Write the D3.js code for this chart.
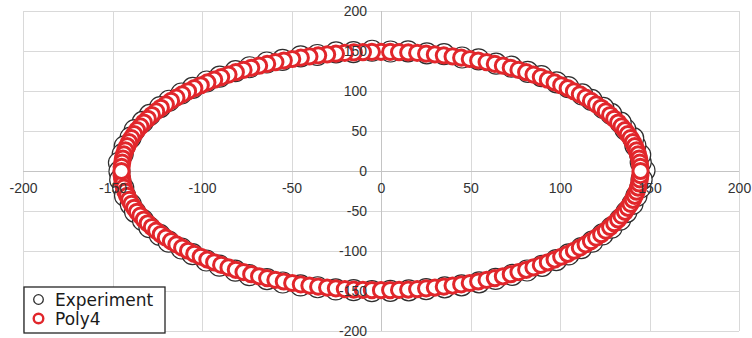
<!DOCTYPE html>
<html>
<head>
<meta charset="utf-8">
<script src="https://cdn.jsdelivr.net/npm/d3@7"></script>
<style>
  html, body { margin: 0; padding: 0; background: #ffffff; }
  svg { display: block; }
</style>
</head>
<body>
<svg id="chart" width="752" height="338"></svg>
<script>
// Axis ticks and their labels
const xTicks = [-200, -150, -100, -50, 0, 50, 100, 150, 200];
const yTicks = [-200, -150, -100, -50, 0, 50, 100, 150, 200];
const xTickLabels = ["-200", "-150", "-100", "-50", "0", "50", "100", "150", "200"];
const yTickLabels = ["-200", "-150", "-100", "-50", "0", "50", "100", "150", "200"];

// Series names (legend order)
const seriesNames = ["Experiment", "Poly4"];

// Experiment: measured contour points
const experimentX = [
  147.2, 145.1, 144.8, 142.1, 140.9, 136.5, 133.9, 128.6, 124.2, 117.6, 112.4, 104.6,
  98.1, 89.6, 82.0, 72.8, 64.3, 54.5, 45.3, 35.2, 25.6, 15.1, 5.3,
  -5.0, -15.4, -25.1, -35.6, -44.9, -55.0, -63.8, -73.4, -81.3, -90.1, -97.4,
  -105.2, -111.5, -118.4, -123.4, -129.2, -133.1, -137.6, -139.9, -143.2, -144.3, -146.4,
  -146.1, -145.7, -144.0, -143.0, -139.8, -137.4, -133.0, -129.4, -123.6, -118.6, -111.4,
  -105.3, -97.6, -90.3, -81.4, -73.6, -63.7, -54.9, -45.0, -35.4, -25.3, -15.3, -5.1,
  5.2, 15.5, 25.2, 35.6, 45.0, 54.8, 64.0, 73.3, 81.6, 90.0, 97.9,
  104.8, 111.9, 118.0, 123.8, 128.8, 133.6, 137.1, 140.5, 142.7, 144.9, 145.6
];
const experimentY = [
  0.6, 10.9, 20.3, 31.8, 41.0, 52.1, 60.4, 71.3, 78.9, 88.9, 95.7, 104.9,
  110.8, 118.7, 123.9, 130.4, 134.2, 139.6, 141.9, 146.0, 147.1, 149.6, 149.4,
  150.3, 148.6, 148.3, 145.0, 143.4, 138.8, 135.6, 129.7, 124.8, 117.9, 111.9,
  103.8, 96.9, 87.8, 79.9, 70.1, 61.4, 51.1, 41.8, 30.9, 21.1, 10.3,
  -0.5, -10.8, -21.2, -30.9, -41.7, -51.0, -61.5, -70.3, -79.9, -88.4, -96.9,
  -104.0, -111.9, -118.4, -124.6, -130.2, -135.1, -139.4, -143.0, -145.3, -148.0, -149.0, -150.2,
  -149.8, -149.2, -147.6, -145.4, -142.9, -139.2, -134.9, -129.8, -124.4, -118.5, -111.4,
  -104.3, -96.3, -88.3, -79.3, -70.8, -60.9, -51.4, -41.2, -31.2, -20.5, -10.5
];

// Poly4: fitted contour (lower branch left to right, then upper branch from the top outwards)
const poly4X = [
  -144.9, -144.6, -144.2, -143.6, -142.8, -141.8, -140.7, -139.4, -137.9, -136.3,
  -134.4, -132.5, -130.3, -128.0, -125.6, -123.0, -120.2, -117.3, -114.3, -111.1,
  -107.8, -104.3, -100.7, -97.0, -93.2, -89.3, -85.2, -81.1, -76.8, -72.5,
  -68.1, -63.6, -59.0, -54.3, -49.6, -44.8, -40.0, -35.1, -30.1, -25.2,
  -20.2, -15.2, -10.1, -5.1, 0.0, 5.1, 10.1, 15.2, 20.2, 25.2,
  30.1, 35.1, 40.0, 44.8, 49.6, 54.3, 59.0, 63.6, 68.1, 72.5,
  76.8, 81.1, 85.2, 89.3, 93.2, 97.0, 100.7, 104.3, 107.8, 111.1,
  114.3, 117.3, 120.2, 123.0, 125.6, 128.0, 130.3, 132.5, 134.4, 136.3,
  137.9, 139.4, 140.7, 141.8, 142.8, 143.6, 144.2, 144.6, 144.9,
  0.0, -5.1, -10.1, -15.2, -20.2, -25.2, -30.1, -35.1, -40.0, -44.8,
  -49.6, -54.3, -59.0, -63.6, -68.1, -72.5, -76.8, -81.1, -85.2, -89.3,
  -93.2, -97.0, -100.7, -104.3, -107.8, -111.1, -114.3, -117.3, -120.2, -123.0,
  -125.6, -128.0, -130.3, -132.5, -134.4, -136.3, -137.9, -139.4, -140.7, -141.8,
  -142.8, -143.6, -144.2, -144.6, -144.9, -145.0,
  5.1, 10.1, 15.2, 20.2, 25.2, 30.1, 35.1, 40.0, 44.8, 49.6,
  54.3, 59.0, 63.6, 68.1, 72.5, 76.8, 81.1, 85.2, 89.3, 93.2,
  97.0, 100.7, 104.3, 107.8, 111.1, 114.3, 117.3, 120.2, 123.0, 125.6,
  128.0, 130.3, 132.5, 134.4, 136.3, 137.9, 139.4, 140.7, 141.8, 142.8,
  143.6, 144.2, 144.6, 144.9, 145.0
];
const poly4Y = [
  -5.2, -10.4, -15.6, -20.7, -25.9, -31.0, -36.0, -41.1, -46.0, -51.0,
  -55.8, -60.6, -65.3, -70.0, -74.5, -79.0, -83.3, -87.6, -91.7, -95.8,
  -99.7, -103.5, -107.2, -110.7, -114.1, -117.4, -120.5, -123.5, -126.4, -129.0,
  -131.6, -133.9, -136.1, -138.1, -140.0, -141.7, -143.2, -144.6, -145.7, -146.7,
  -147.6, -148.2, -148.6, -148.9, -149.0, -148.9, -148.6, -148.2, -147.6, -146.7,
  -145.7, -144.6, -143.2, -141.7, -140.0, -138.1, -136.1, -133.9, -131.6, -129.0,
  -126.4, -123.5, -120.5, -117.4, -114.1, -110.7, -107.2, -103.5, -99.7, -95.8,
  -91.7, -87.6, -83.3, -79.0, -74.5, -70.0, -65.3, -60.6, -55.8, -51.0,
  -46.0, -41.1, -36.0, -31.0, -25.9, -20.7, -15.6, -10.4, -5.2,
  149.0, 148.9, 148.6, 148.2, 147.6, 146.7, 145.7, 144.6, 143.2, 141.7,
  140.0, 138.1, 136.1, 133.9, 131.6, 129.0, 126.4, 123.5, 120.5, 117.4,
  114.1, 110.7, 107.2, 103.5, 99.7, 95.8, 91.7, 87.6, 83.3, 79.0,
  74.5, 70.0, 65.3, 60.6, 55.8, 51.0, 46.0, 41.1, 36.0, 31.0,
  25.9, 20.7, 15.6, 10.4, 5.2, 0.0,
  148.9, 148.6, 148.2, 147.6, 146.7, 145.7, 144.6, 143.2, 141.7, 140.0,
  138.1, 136.1, 133.9, 131.6, 129.0, 126.4, 123.5, 120.5, 117.4, 114.1,
  110.7, 107.2, 103.5, 99.7, 95.8, 91.7, 87.6, 83.3, 79.0, 74.5,
  70.0, 65.3, 60.6, 55.8, 51.0, 46.0, 41.1, 36.0, 31.0, 25.9,
  20.7, 15.6, 10.4, 5.2, 0.0
];

// ---- layout ----
const W = 752, H = 338;
const plot = { left: 23, right: 739, top: 11, bottom: 331 };
const colors = { experiment: "#2e2e2e", poly4: "#e1262b", grid: "#d9d9d9", axis: "#c4c4c4", text: "#333333" };

const svg = d3.select("#chart");
svg.append("rect").attr("width", W).attr("height", H).attr("fill", "#ffffff");

const x = d3.scaleLinear().domain([-200, 200]).range([plot.left, plot.right]);
const y = d3.scaleLinear().domain([-200, 200]).range([plot.bottom, plot.top]);

// gridlines
const gx = svg.append("g")
  .attr("transform", `translate(0,${plot.bottom})`)
  .call(d3.axisBottom(x).tickValues(xTicks).tickSize(-(plot.bottom - plot.top)).tickFormat(""));
const gy = svg.append("g")
  .attr("transform", `translate(${plot.left},0)`)
  .call(d3.axisLeft(y).tickValues(yTicks).tickSize(-(plot.right - plot.left)).tickFormat(""));
[gx, gy].forEach(g => {
  g.select(".domain").remove();
  g.selectAll(".tick line").attr("stroke", colors.grid).attr("stroke-width", 1).attr("shape-rendering", "crispEdges");
});

// axis lines through the origin
svg.append("line")
  .attr("x1", plot.left).attr("x2", plot.right).attr("y1", y(0)).attr("y2", y(0))
  .attr("stroke", colors.axis).attr("stroke-width", 1).attr("shape-rendering", "crispEdges");
svg.append("line")
  .attr("x1", x(0)).attr("x2", x(0)).attr("y1", plot.top).attr("y2", plot.bottom)
  .attr("stroke", colors.axis).attr("stroke-width", 1).attr("shape-rendering", "crispEdges");

// series markers
const expData = experimentX.map((v, i) => ({ x: v, y: experimentY[i] }));
const polyData = poly4X.map((v, i) => ({ x: v, y: poly4Y[i] }));

svg.append("g").selectAll("circle").data(expData).join("circle")
  .attr("cx", d => x(d.x)).attr("cy", d => y(d.y)).attr("r", 10.5)
  .attr("fill", "#ffffff").attr("stroke", colors.experiment).attr("stroke-width", 1.2);

svg.append("g").selectAll("circle").data(polyData).join("circle")
  .attr("cx", d => x(d.x)).attr("cy", d => y(d.y)).attr("r", 7.6)
  .attr("fill", "#ffffff").attr("stroke", colors.poly4).attr("stroke-width", 3);

// tick labels on the axes through the origin
const labelFont = "'Liberation Sans', Arial, sans-serif";
const xl = svg.append("g")
  .attr("transform", `translate(0,${y(0)})`)
  .call(d3.axisBottom(x).tickValues(xTicks).tickSize(0).tickPadding(12)
    .tickFormat((d, i) => xTickLabels[i]));
const yl = svg.append("g")
  .attr("transform", `translate(${x(0)},0)`)
  .call(d3.axisLeft(y).tickValues(yTicks).tickSize(0).tickPadding(14)
    .tickFormat((d, i) => yTickLabels[i]));
[xl, yl].forEach(g => {
  g.select(".domain").remove();
  g.selectAll(".tick text").attr("fill", colors.text).style("font-family", labelFont).style("font-size", "14px");
});

// legend
const legend = svg.append("g");
legend.append("rect")
  .attr("x", 24).attr("y", 287).attr("width", 141).attr("height", 46)
  .attr("fill", "#ffffff").attr("stroke", "#262626").attr("stroke-width", 1.3);
const legendItems = [
  { name: seriesNames[0], color: colors.experiment, sw: 1.3, cy: 299.5, ty: 305.5 },
  { name: seriesNames[1], color: colors.poly4, sw: 2.4, cy: 318.5, ty: 324.5 }
];
legendItems.forEach(it => {
  legend.append("circle").attr("cx", 38.5).attr("cy", it.cy).attr("r", 4.8)
    .attr("fill", "#ffffff").attr("stroke", it.color).attr("stroke-width", it.sw);
  legend.append("text").attr("x", 55).attr("y", it.ty)
    .attr("fill", "#1a1a1a")
    .style("font-family", "'DejaVu Sans', sans-serif").style("font-size", "17px")
    .text(it.name);
});
</script>
</body>
</html>
